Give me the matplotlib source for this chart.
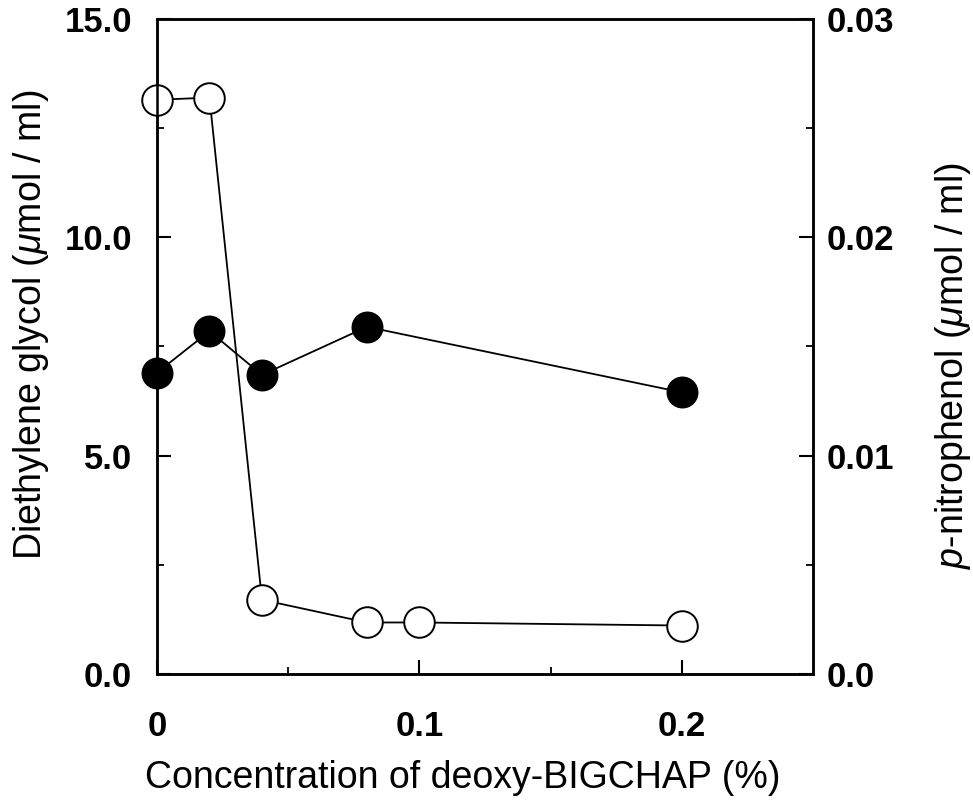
import matplotlib
matplotlib.use("Agg")
import matplotlib.pyplot as plt
from matplotlib.ticker import MultipleLocator, FixedLocator

plt.rcParams['font.family'] = ['Liberation Sans', 'DejaVu Sans']
plt.rcParams['mathtext.fontset'] = 'custom'
plt.rcParams['mathtext.rm'] = 'Liberation Sans'
plt.rcParams['mathtext.it'] = 'Liberation Sans:italic'

# Data
conc_deg = [0.0, 0.02, 0.04, 0.08, 0.2]
diethylene_glycol = [6.9, 7.85, 6.85, 7.95, 6.45]          # umol/ml (filled)
conc_pnp = [0.0, 0.02, 0.04, 0.08, 0.1, 0.2]
p_nitrophenol = [0.0263, 0.0264, 0.0034, 0.00236, 0.00236, 0.00222]  # umol/ml (open)

x_ticks = [0, 0.1, 0.2]
x_tick_labels = ["0", "0.1", "0.2"]
yl_ticks = [0, 5, 10, 15]
yl_tick_labels = ["0.0", "5.0", "10.0", "15.0"]
yr_ticks = [0, 0.01, 0.02, 0.03]
yr_tick_labels = ["0.0", "0.01", "0.02", "0.03"]

fig = plt.figure(figsize=(9.73, 8.02), dpi=100)
ax = fig.add_axes([157/973, 1-674/802, (813-157)/973, (674-19)/802])
ax2 = ax.twinx()

ax.set_xlim(0, 0.25)
ax.set_ylim(0, 15)
ax2.set_ylim(0, 0.03)

ms = 22
ax2.plot(conc_pnp, p_nitrophenol, '-o', color='black', lw=1.3,
         markerfacecolor='white', markeredgecolor='black', markeredgewidth=1.4,
         markersize=ms, clip_on=False, zorder=3)
ax.plot(conc_deg, diethylene_glycol, '-o', color='black', lw=1.3,
        markerfacecolor='black', markersize=ms, clip_on=False, zorder=3)
ax.set_zorder(ax2.get_zorder() + 1)
ax.patch.set_visible(False)

for a in (ax, ax2):
    for s in a.spines.values():
        s.set_linewidth(1.8)

ax.xaxis.set_major_locator(FixedLocator(x_ticks))
ax.set_xticklabels(x_tick_labels)
ax.xaxis.set_minor_locator(FixedLocator([0.05, 0.15]))
ax.yaxis.set_major_locator(FixedLocator(yl_ticks))
ax.set_yticklabels(yl_tick_labels)
ax.yaxis.set_minor_locator(MultipleLocator(2.5))
ax2.yaxis.set_major_locator(FixedLocator(yr_ticks))
ax2.set_yticklabels(yr_tick_labels)
ax2.yaxis.set_minor_locator(MultipleLocator(0.005))

ax.tick_params(axis='both', which='major', direction='in', length=10, width=1.5)
ax.tick_params(axis='both', which='minor', direction='in', length=5, width=1.3)
ax.tick_params(axis='y', which='major', labelsize=25, pad=18)
ax.tick_params(axis='x', which='major', labelsize=25, pad=26)
ax2.tick_params(axis='y', which='major', direction='in', length=10, width=1.5, labelsize=25, pad=10)
ax2.tick_params(axis='y', which='minor', direction='in', length=5, width=1.3)
for lab in ax.get_xticklabels():
    lab.set_family(['Liberation Sans Narrow', 'Liberation Sans'])
    lab.set_fontweight('bold')
for lab in ax.get_yticklabels() + ax2.get_yticklabels():
    lab.set_fontweight('bold')

ax.set_xlabel("Concentration of deoxy-BIGCHAP (%)", fontsize=27,
              family=['Liberation Sans Narrow', 'Liberation Sans'])
ax.xaxis.set_label_coords(463/973, (802-778)/802, transform=fig.transFigure)
ax.set_ylabel(r"Diethylene glycol ($\mu$mol / ml)", fontsize=27)
ax.yaxis.set_label_coords(31/973, 1 - 325/802, transform=fig.transFigure)
ax2.set_ylabel(r"$p$-nitrophenol ($\mu$mol / ml)", fontsize=27, rotation=90)
ax2.yaxis.set_label_coords(953/973, 1 - 366/802, transform=fig.transFigure)
ax.xaxis.label.set_va('center')
ax.yaxis.label.set_va('center')
ax2.yaxis.label.set_va('center')

fig.savefig("out.png", dpi=100)
